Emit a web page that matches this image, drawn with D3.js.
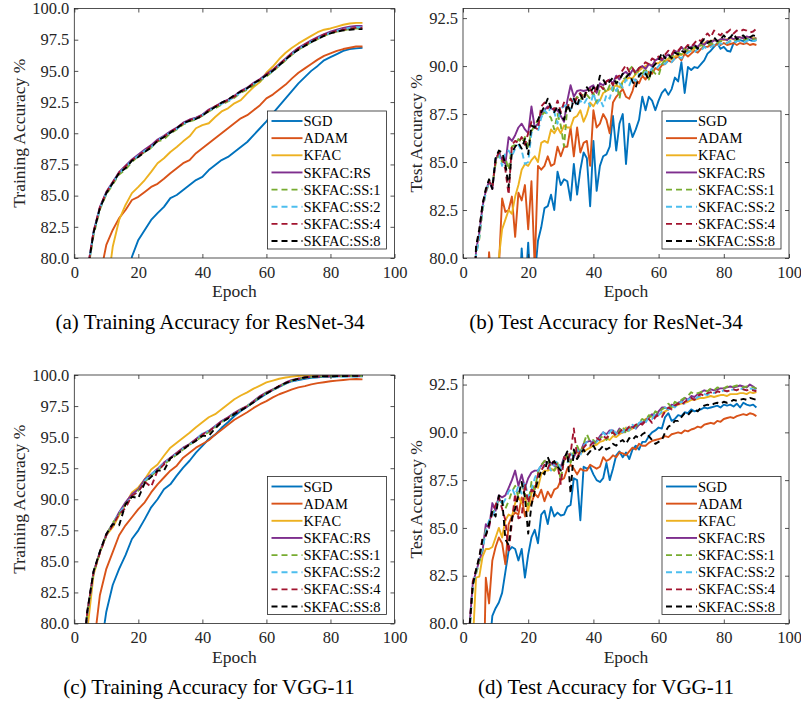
<!DOCTYPE html>
<html>
<head>
<meta charset="utf-8">
<script src="https://cdn.jsdelivr.net/npm/d3@7"></script>
<style>
  body { margin: 0; background: #fff; }
  text { font-family: "Liberation Serif", "Times New Roman", serif; }
</style>
</head>
<body>
<svg id="fig" width="801" height="706"></svg>
<script>
// legend names, in drawing order
const names = ["SGD", "ADAM", "KFAC", "SKFAC:RS", "SKFAC:SS:1", "SKFAC:SS:2", "SKFAC:SS:4", "SKFAC:SS:8"];

const trainEpochs = d3.range(2, 91, 2);
const testEpochs = d3.range(1, 91);
const xTicks = [0, 20, 40, 60, 80, 100];
const trainTicks = [80, 82.5, 85, 87.5, 90, 92.5, 95, 97.5, 100];
const testTicks = [80, 82.5, 85, 87.5, 90, 92.5];

// (a) training accuracy, ResNet-34 (every 2nd epoch)
const resTrainSGD = [50,55,60,64,67,70,73,76,80.1,81.45, 82.25,83.05,83.6,84.1,84.8,85.05,85.45,85.85,86.25,86.5, 87.05,87.45,87.85,88.1,88.5,88.9,89.3,89.85,90.4,90.95, 91.6,92.2,92.8,93.4,94.0,94.5,95.0,95.4,95.85,96.1, 96.35,96.6,96.75,96.8,96.85];
const resTrainADAM = [70,73,75.5,78.5,81.05,82.25,83.2,83.85,84.65,84.9, 85.3,85.7,85.95,86.35,86.8,87.2,87.6,87.85,88.4,88.8, 89.2,89.6,90.0,90.4,90.8,91.2,91.45,91.85,92.25,92.8, 93.1,93.5,93.9,94.4,94.85,95.2,95.55,95.9,96.2,96.4, 96.6,96.75,96.85,96.95,96.95];
const resTrainKFAC = [62,66,70,73.5,77.0,80.9,83.05,84.25,85.2,85.7, 86.25,86.9,87.6,88.0,88.5,88.9,89.35,89.75,90.4,90.65, 90.8,91.3,91.75,92.0,92.4,92.65,93.2,93.7,94.1,94.85, 95.35,95.95,96.45,96.85,97.2,97.5,97.8,98.1,98.3,98.4, 98.55,98.7,98.8,98.85,98.85];
const resTrainRS = [70,78.8,82.1,84.1,85.3,86.1,86.9,87.4,87.9,88.3, 88.7,89.05,89.5,89.8,90.15,90.45,90.85,91.1,91.25,91.5, 91.9,92.15,92.45,92.7,93.0,93.4,93.65,94.05,94.35,94.75, 95.1,95.55,96.0,96.45,96.85,97.15,97.45,97.7,97.95,98.15, 98.3,98.45,98.55,98.6,98.6];
const resTrainSS1 = [69.5,78.6,81.8,83.9,85.1,85.9,86.7,87.1,87.7,88.15, 88.5,88.85,89.35,89.5,90.0,90.3,90.7,90.95,91.1,91.4, 91.75,92.0,92.3,92.55,92.85,93.25,93.5,93.85,94.2,94.55, 94.95,95.4,95.85,96.3,96.7,97.0,97.3,97.55,97.8,98.0, 98.15,98.25,98.35,98.4,98.4];
const resTrainSS2 = [69.8,78.7,82.0,84.0,85.2,86.0,86.8,87.3,87.8,88.2, 88.6,88.9,89.4,89.75,90.05,90.35,90.75,91.0,91.2,91.45, 91.8,92.1,92.35,92.6,92.9,93.3,93.6,93.95,94.25,94.65, 95.0,95.45,95.9,96.35,96.75,97.05,97.35,97.6,97.85,98.05, 98.2,98.35,98.45,98.5,98.5];
const resTrainSS4 = [70.2,78.8,82.1,84.05,85.25,86.05,86.85,87.35,87.85,88.2, 88.55,89.0,89.4,89.7,90.1,90.4,90.8,91.05,91.2,91.45, 91.85,92.15,92.4,92.65,92.95,93.35,93.6,94.0,94.3,94.7, 95.05,95.5,95.95,96.4,96.8,97.1,97.4,97.65,97.9,98.05, 98.2,98.3,98.4,98.45,98.45];
const resTrainSS8 = [70,78.7,82.0,84.0,85.2,86.0,86.8,87.2,87.8,88.1, 88.5,88.85,89.4,89.7,90.05,90.4,90.8,91.0,91.15,91.4, 91.8,92.1,92.45,92.7,93.05,93.35,93.6,94.0,94.3,94.65, 95.0,95.45,95.9,96.35,96.7,97.0,97.3,97.55,97.8,98.0, 98.15,98.25,98.3,98.35,98.35];

// (b) test accuracy, ResNet-34 (every epoch)
const resTestSGD = [45,55,60,63,66,68,70,72,71,74, 73,76,75,77,76,78,77,80.5,78,80.8, 77.5,79,80.9,81.6,82.6,82.7,83.3,82.5,84.5,83.8, 84.1,84.0,83.0,84.9,83.3,84.6,85.5,85.2,82.7,86.1, 83.5,84.8,85.3,85.4,85.8,87.4,85.6,87.0,87.5,84.9, 87.0,86.3,86.7,87.2,88.4,87.7,88.4,88.2,87.7,88.2, 88.6,88.8,88.5,88.8,89.4,89.2,90.2,88.6,89.95,89.8, 89.95,89.9,90.1,90.3,90.65,90.8,91.0,91.2,90.9,91.0, 90.8,90.75,91.2,91.3,91.35,91.3,91.45,91.35,91.3,91.35];
const resTestADAM = [50,60,66,70,73,75,77,80.3,78,77, 79.5,83.1,82.4,82.5,83.2,81.1,83.4,83.0,83.8,81.5, 84.0,79.5,84.8,84.6,84.8,85.3,84.8,84.9,85.8,85.3, 85.8,85.8,86.8,85.3,86.8,85.5,86.0,86.1,84.8,87.7, 86.8,87.0,87.5,87.2,86.5,88.1,88.4,88.6,88.8,88.4, 88.3,88.7,89.3,89.1,89.5,89.3,89.7,89.6,89.9,89.8, 90.05,90.1,90.3,90.2,90.4,90.5,90.3,90.65,90.5,90.65, 90.8,90.7,90.9,91.0,91.0,91.1,91.05,91.15,91.1,91.2, 91.1,91.15,91.2,91.1,91.2,91.15,91.2,91.1,91.15,91.1];
const resTestKFAC = [50,58,64,68,71,74,76,77.5,78.5,79.5, 80.0,81.5,82.0,82.5,82.3,83.2,83.8,84.6,84.9,84.8, 85.1,85.3,85.0,86.0,86.1,86.0,86.7,86.5,86.8,86.5, 86.9,86.8,86.8,87.3,87.4,87.7,87.1,87.5,88.1,87.9, 88.2,88.2,88.6,88.7,88.8,88.9,89.0,88.9,89.2,89.3, 89.4,89.35,89.6,89.75,89.9,90.0,90.1,90.05,90.15,90.15, 90.3,90.25,90.4,90.35,90.5,90.55,90.6,90.7,90.75,90.8, 90.9,91.0,91.1,91.2,91.3,91.3,91.35,91.3,91.4,91.35, 91.4,91.45,91.4,91.5,91.5,91.45,91.5,91.5,91.45,91.45];
const resTestRS = [60,70,76,80.4,81.3,82.7,83.5,84.0,83.6,85.1, 85.5,85.1,84.9,86.3,86.1,86.4,86.8,87.0,86.7,86.5, 87.9,86.8,87.0,87.5,87.7,87.9,87.8,87.7,87.7,87.4, 87.1,88.2,89.0,88.4,88.7,88.75,88.7,88.75,88.9,89.0, 88.6,89.1,89.0,89.2,89.3,89.1,89.5,89.3,89.6,89.7, 89.5,89.8,89.7,89.9,90.0,89.85,90.1,90.0,90.3,90.4, 90.3,90.5,90.6,90.5,90.8,90.7,91.0,90.8,90.9,91.0, 91.1,91.0,91.2,91.1,91.3,91.2,91.35,91.3,91.4,91.4, 91.35,91.5,91.4,91.5,91.5,91.45,91.55,91.5,91.4,91.45];
const resTestSS1 = [58,68,75,80.2,81.0,82.5,83.4,83.9,83.8,84.9, 85.4,85.0,85.2,84.6,85.8,85.9,86.2,86.0,86.3,85.8, 86.6,86.9,87.2,87.4,87.6,87.5,87.3,86.7,87.5,86.9, 85.8,87.9,88.3,88.1,88.4,88.2,88.6,88.5,88.3,88.6, 88.1,88.8,88.9,88.6,89.0,88.7,89.2,88.3,89.3,89.4, 89.8,90.0,89.5,89.9,89.6,89.9,89.3,89.8,89.6,89.5, 90.1,90.3,90.4,90.5,90.6,90.7,90.6,90.9,90.8,90.9, 91.0,90.9,91.1,91.0,91.1,91.2,91.1,91.2,91.3,91.3, 91.2,91.3,91.4,91.3,91.4,91.35,91.4,91.3,91.4,91.4];
const resTestSS2 = [58,68,75,80.1,81.1,82.6,83.4,84.0,83.7,85.3, 85.4,84.8,85.5,85.6,85.3,85.7,85.9,85.6,84.9,85.0, 86.5,86.9,86.6,87.3,87.7,87.5,87.9,87.6,87.0,87.8, 87.9,88.0,87.7,88.4,87.9,88.2,88.0,88.3,87.9,88.6, 88.0,88.3,87.9,88.5,88.3,89.0,88.7,89.1,88.9,89.3, 89.0,89.4,89.2,89.6,89.4,89.7,89.6,89.9,89.8,90.0, 90.2,90.1,90.3,90.2,90.4,90.5,90.4,90.6,90.7,90.8, 90.7,90.9,90.8,91.0,90.9,91.0,91.1,91.0,91.2,91.1, 91.2,91.3,91.2,91.3,91.3,91.2,91.3,91.4,91.3,91.35];
const resTestSS4 = [60,69,76,80.5,81.4,82.8,83.5,84.0,83.7,85.1, 85.5,85.3,84.6,83.3,85.9,86.1,86.0,86.3,85.9,86.5, 87.1,86.8,86.7,87.9,88.1,87.8,88.0,87.7,88.2,87.6, 88.1,87.8,88.3,88.0,88.4,88.6,88.3,88.7,88.8,88.5, 88.9,89.0,88.8,89.2,89.3,89.0,89.4,89.5,89.8,90.05, 89.7,89.9,89.6,89.9,90.0,90.2,90.1,90.4,90.3,90.5, 90.4,90.6,90.8,90.6,90.9,90.8,91.0,90.9,91.1,91.0, 91.2,91.4,91.3,91.5,91.7,91.5,91.85,91.7,91.6,91.8, 91.75,91.9,91.7,91.85,91.8,91.9,91.85,91.75,91.8,91.95];
const resTestSS8 = [60,70,76.5,80.6,81.5,82.8,83.6,84.1,83.6,85.2, 85.6,85.5,84.9,83.7,85.5,85.8,86.0,85.7,86.2,85.4, 86.9,86.8,87.2,87.6,87.9,88.3,87.8,87.6,87.9,87.5, 87.2,88.0,87.6,88.3,87.9,88.5,88.2,88.9,88.6,88.9, 88.7,89.5,89.3,89.0,89.2,89.4,89.1,89.3,89.6,89.4, 89.6,89.2,88.9,89.5,89.7,89.6,89.3,89.9,90.1,90.3, 90.7,90.4,90.6,90.4,90.7,90.6,90.8,90.7,91.0,90.9, 91.1,90.9,91.2,91.4,91.2,91.3,91.5,91.3,91.4,91.6, 91.4,91.5,91.7,91.4,91.5,91.6,91.4,91.5,91.6,91.55];

// (c) training accuracy, VGG-11 (every 2nd epoch)
const vggTrainSGD = [65,70,74,77.5,80.95,83.1,84.4,85.5,86.8,87.5, 88.4,89.35,90.0,90.8,91.2,91.9,92.55,93.1,93.75,94.3, 94.85,95.2,95.75,96.2,96.7,97.1,97.45,97.8,98.15,98.5, 98.8,99.05,99.3,99.5,99.6,99.7,99.78,99.82,99.85,99.88, 99.9,99.9,99.9,99.9,99.9];
const vggTrainADAM = [70,74,78,82.3,84.4,85.75,87.1,87.9,88.55,89.2, 89.75,90.55,91.2,91.75,92.3,92.7,93.35,93.75,94.15,94.45, 94.75,95.2,95.6,96.0,96.4,96.7,97.0,97.35,97.65,97.9, 98.2,98.45,98.65,98.85,99.0,99.1,99.25,99.35,99.42,99.5, 99.55,99.6,99.65,99.68,99.65];
const vggTrainKFAC = [74,79.3,83.9,85.75,87.1,87.75,88.7,89.6,90.55,90.95, 91.6,92.4,92.8,93.5,94.15,94.55,94.95,95.35,95.8,96.2, 96.6,96.85,97.25,97.65,98.05,98.35,98.6,98.9,99.15,99.4, 99.55,99.7,99.8,99.87,99.92,99.95,99.96,99.97,99.97,99.98, 99.98,99.98,99.99,99.99,99.99];
const vggTrainRS = [75,80.8,84.15,85.75,87.2,88.0,88.95,89.75,90.4,90.8, 91.6,92.0,92.45,92.95,93.35,93.75,94.15,94.45,94.85,95.25, 95.5,95.9,96.3,96.6,96.95,97.25,97.5,97.9,98.3,98.6, 98.85,99.1,99.4,99.6,99.7,99.8,99.85,99.88,99.9,99.9, 99.92,99.92,99.93,99.93,99.93];
const vggTrainSS1 = [74.8,80.6,84.0,85.7,87.1,88.1,88.8,89.6,90.2,90.7, 91.4,91.9,92.3,92.8,93.2,93.6,94.0,94.4,94.7,95.1, 95.4,95.8,96.2,96.5,96.9,97.2,97.5,97.85,98.25,98.55, 98.8,99.05,99.35,99.55,99.68,99.78,99.83,99.86,99.88,99.9, 99.9,99.91,99.92,99.92,99.92];
const vggTrainSS2 = [75,80.7,84.1,85.8,87.1,88.0,88.9,89.5,90.3,90.6, 91.5,92.0,92.4,92.9,93.3,93.7,94.1,94.4,94.8,95.3, 95.5,95.85,96.2,96.55,96.9,97.2,97.5,97.85,98.2,98.5, 98.8,99.05,99.3,99.5,99.65,99.75,99.8,99.82,99.84,99.85, 99.86,99.86,99.87,99.87,99.88];
const vggTrainSS4 = [75,80.8,84.1,85.7,87.1,87.9,88.8,89.3,90.3,90.6, 91.4,91.0,92.3,92.8,93.3,93.7,94.1,94.4,94.8,95.2, 95.45,95.85,96.25,96.55,96.9,97.2,97.5,97.85,98.25,98.55, 98.8,99.1,99.35,99.55,99.7,99.8,99.85,99.87,99.9,99.9, 99.91,99.92,99.92,99.93,99.93];
const vggTrainSS8 = [75.2,80.9,84.2,85.8,87.2,88.0,87.9,89.6,90.2,90.1, 91.3,91.8,92.3,92.3,93.3,93.6,94.0,94.4,94.7,95.1, 95.1,95.7,96.2,96.5,96.85,97.15,97.45,97.8,98.2,98.5, 98.8,99.1,99.35,99.55,99.7,99.8,99.85,99.88,99.9,99.9, 99.92,99.92,99.93,99.93,99.93];

// (d) test accuracy, VGG-11 (every epoch)
const vggTestSGD = [55,62,67,70,73,75,77,78.5,80.4,80.8, 81.1,81.6,82.7,83.8,84.0,83.9,83.3,83.9,82.4,83.6, 84.5,84.9,84.2,85.7,85.9,85.2,86.1,85.6,85.8,85.65, 85.7,86.1,86.2,87.6,87.5,85.4,88.2,88.1,88.2,87.8, 87.5,87.4,87.6,88.4,87.5,88.1,88.8,89.0,88.7,88.95, 88.6,89.1,89.3,89.1,89.5,89.5,89.8,90.0,90.1,90.25, 90.2,90.8,91.0,90.6,90.7,90.9,90.85,91.05,91.0,91.2, 91.1,91.15,91.2,91.3,91.25,91.3,91.35,91.4,91.3,91.45, 91.4,91.45,91.35,91.5,91.3,91.55,91.45,91.4,91.45,91.3];
const vggTestADAM = [45,55,62,68,72,74,82.4,81.05,83.3,84.0, 84.5,84.2,83.1,85.2,85.6,85.8,85.7,86.6,85.6,86.1, 86.3,86.8,86.6,87.0,86.4,86.9,86.6,87.0,87.1,87.5, 87.6,88.1,88.3,88.1,87.8,88.1,88.0,88.0,88.3,88.2, 88.1,88.2,88.7,88.5,88.6,88.8,88.7,88.95,88.9,88.8, 89.0,89.2,89.1,89.4,89.3,89.3,89.45,89.55,89.6,89.65, 89.7,89.8,89.75,89.9,89.95,90.0,89.95,90.1,90.05,90.15, 90.2,90.3,90.25,90.4,90.45,90.5,90.45,90.6,90.55,90.7, 90.75,90.8,90.75,90.85,90.9,90.95,90.9,91.0,90.95,90.85];
const vggTestKFAC = [55,68,79.0,82.4,82.45,83.5,83.9,83.9,84.0,84.5, 85.0,84.5,85.4,85.7,85.6,86.3,86.6,86.3,86.6,85.9, 86.8,87.2,87.1,87.8,88.0,88.0,88.1,88.0,88.2,88.25, 88.5,88.8,88.9,88.8,88.95,88.9,89.0,89.1,89.2,89.3, 89.35,89.5,89.55,89.7,89.6,89.8,89.75,89.9,90.0,90.25, 90.1,90.2,90.3,90.4,90.5,90.7,90.75,90.85,90.9,90.95, 91.0,91.1,91.2,91.3,91.35,91.45,91.5,91.55,91.6,91.7, 91.7,91.75,91.8,91.8,91.85,91.9,91.85,91.9,91.95,91.95, 91.9,92.0,92.0,92.0,92.05,92.05,92.0,92.1,92.05,92.1];
const vggTestRS = [70,79.9,82.1,82.7,83.3,83.8,85.2,85.0,86.3,85.9, 86.7,86.6,86.7,87.1,87.5,88.0,87.2,87.8,87.1,87.6, 87.9,88.0,88.0,88.25,88.5,88.4,88.4,88.25,88.2,88.2, 88.7,88.9,88.5,88.7,89.1,88.95,89.4,89.5,89.55,89.4, 89.55,89.8,90.0,89.9,90.1,90.1,89.9,90.2,90.0,90.1, 90.2,90.3,90.2,90.4,90.5,90.6,90.8,90.95,90.8,91.1, 91.3,91.3,91.2,91.45,91.4,91.55,91.6,91.8,91.7,91.9, 91.85,92.0,92.1,92.2,92.15,92.25,92.2,92.25,92.3,92.3, 92.35,92.4,92.35,92.4,92.45,92.4,92.35,92.5,92.4,92.25];
const vggTestSS1 = [68,79.5,82.0,82.6,83.2,83.9,84.9,85.3,85.7,86.1, 86.5,86.3,86.0,86.4,86.9,87.2,86.6,87.3,86.8,86.2, 87.4,87.0,87.9,88.3,88.5,88.6,88.2,88.0,88.4,87.5, 88.6,88.8,88.4,89.0,89.3,88.9,89.4,89.9,89.5,89.6, 89.4,89.7,89.8,89.6,89.9,90.0,89.8,90.1,90.3,89.9, 90.2,90.4,90.3,90.5,90.7,90.6,90.9,90.8,91.1,91.0, 91.2,91.3,91.5,91.3,91.6,91.5,91.7,91.8,91.9,92.1, 92.0,92.05,92.1,92.2,92.15,92.3,92.2,92.35,92.3,92.3, 92.4,92.35,92.4,92.45,92.4,92.35,92.4,92.4,92.35,92.3];
const vggTestSS2 = [68,79.6,82.0,82.7,83.4,83.9,84.8,85.4,85.6,86.0, 86.6,86.2,86.5,86.9,87.1,86.7,87.2,86.8,87.4,86.6, 87.0,87.6,88.0,88.3,88.2,88.4,88.0,88.3,88.5,88.1, 88.6,88.4,88.9,88.7,89.1,88.8,89.3,89.5,89.3,89.6, 89.5,89.7,90.0,89.8,90.0,90.2,89.9,90.1,90.0,90.3, 90.1,90.4,90.2,90.5,90.6,90.5,90.8,90.7,91.0,90.9, 91.1,91.3,91.2,91.4,91.3,91.5,91.6,91.5,91.7,91.8, 91.7,91.85,91.9,92.0,91.95,92.1,92.05,92.15,92.1,92.2, 92.15,92.2,92.25,92.2,92.3,92.25,92.2,92.3,92.25,92.2];
const vggTestSS4 = [69,79.8,82.2,82.8,83.4,84.5,84.6,85.1,85.8,86.2, 86.6,86.0,85.4,83.7,85.3,86.8,85.5,85.6,87.3,86.3, 87.0,86.9,87.8,88.0,88.3,88.1,88.5,88.4,88.3,87.3, 88.7,88.5,88.9,90.2,88.7,89.0,89.2,89.4,89.3,89.5, 89.7,89.6,89.8,89.7,89.9,90.0,89.8,90.0,90.2,90.1, 90.3,90.2,90.4,90.5,90.4,90.6,90.7,90.5,90.8,90.9, 90.8,91.1,91.3,91.2,91.4,91.5,91.4,91.6,91.7,91.8, 91.7,91.9,92.0,91.9,92.05,92.1,92.0,92.15,92.1,92.2, 92.15,92.2,92.25,92.2,92.3,92.25,92.2,92.25,92.2,92.15];
const vggTestSS8 = [69,79.8,82.0,82.8,83.5,84.4,84.6,85.2,85.9,85.6, 86.7,86.5,84.4,84.1,85.5,86.0,86.7,87.4,86.6,84.7, 86.2,86.9,87.5,88.0,87.8,88.7,88.3,88.5,88.2,88.0, 88.6,89.0,86.8,89.1,88.6,88.9,89.1,88.8,89.0,89.3, 89.0,89.1,89.3,89.1,89.2,89.4,89.3,89.5,89.6,89.4, 89.7,89.6,89.8,89.7,89.9,90.0,89.8,89.6,89.4,89.5, 89.6,90.0,90.3,90.4,90.6,90.6,90.8,91.0,90.9,91.1, 91.2,91.1,91.3,91.4,91.45,91.4,91.5,91.55,91.5,91.6, 91.55,91.6,91.7,91.65,91.7,91.75,91.7,91.8,91.75,91.7];

// MATLAB default colour order, black for the last one
const colors = ["#0072BD", "#D95319", "#EDB120", "#7E2F8E", "#77AC30", "#4DBEEE", "#A2142F", "#000000"];
const dashed = [false, false, false, false, true, true, true, true];
const axisColor = "#262626";
const font = '"Liberation Serif", "Times New Roman", serif';

const panels = [
  { left: 74.3, top: 8.5, right: 394.5, bottom: 258, yMax: 100, ticks: trainTicks, epochs: trainEpochs,
    series: [resTrainSGD, resTrainADAM, resTrainKFAC, resTrainRS, resTrainSS1, resTrainSS2, resTrainSS4, resTrainSS8],
    ylabel: "Training Accuracy %", ylabelX: 25, caption: "(a) Training Accuracy for ResNet-34", capX: 210, capY: 329, epochY: 297 },
  { left: 463, top: 8.5, right: 789, bottom: 258, yMax: 93, ticks: testTicks, epochs: testEpochs,
    series: [resTestSGD, resTestADAM, resTestKFAC, resTestRS, resTestSS1, resTestSS2, resTestSS4, resTestSS8],
    ylabel: "Test Accuracy %", ylabelX: 422, caption: "(b) Test Accuracy for ResNet-34", capX: 606, capY: 329, epochY: 297 },
  { left: 74.3, top: 375, right: 394.5, bottom: 623.5, yMax: 100, ticks: trainTicks, epochs: trainEpochs,
    series: [vggTrainSGD, vggTrainADAM, vggTrainKFAC, vggTrainRS, vggTrainSS1, vggTrainSS2, vggTrainSS4, vggTrainSS8],
    ylabel: "Training Accuracy %", ylabelX: 25, caption: "(c) Training Accuracy for VGG-11", capX: 209, capY: 694, epochY: 663 },
  { left: 463, top: 375, right: 789, bottom: 623.5, yMax: 93, ticks: testTicks, epochs: testEpochs,
    series: [vggTestSGD, vggTestADAM, vggTestKFAC, vggTestRS, vggTestSS1, vggTestSS2, vggTestSS4, vggTestSS8],
    ylabel: "Test Accuracy %", ylabelX: 422, caption: "(d) Test Accuracy for VGG-11", capX: 606, capY: 694, epochY: 663 }
];

const svg = d3.select("#fig");
svg.append("rect").attr("width", 801).attr("height", 706).attr("fill", "#fff");

function styleAxis(g, size) {
  g.attr("font-family", font).attr("font-size", size);
  g.select(".domain").remove();
  g.selectAll(".tick line").attr("stroke", axisColor).attr("stroke-width", 0.8);
  g.selectAll(".tick text").attr("fill", axisColor);
}

panels.forEach((p, pi) => {
  const x = d3.scaleLinear().domain([0, 100]).range([p.left, p.right]);
  const y = d3.scaleLinear().domain([80, p.yMax]).range([p.bottom, p.top]);

  const clipId = "clip" + pi;
  svg.append("clipPath").attr("id", clipId)
    .append("rect")
    .attr("x", p.left).attr("y", p.top)
    .attr("width", p.right - p.left).attr("height", p.bottom - p.top);

  const line = d3.line()
    .x((d, i) => x(p.epochs[i]))
    .y(d => y(d));

  const lines = svg.append("g").attr("clip-path", `url(#${clipId})`);
  p.series.forEach((vals, si) => {
    lines.append("path")
      .datum(vals)
      .attr("d", line)
      .attr("fill", "none")
      .attr("stroke", colors[si])
      .attr("stroke-width", 1.9)
      .attr("stroke-linejoin", "round")
      .attr("stroke-dasharray", dashed[si] ? "6,4" : null);
  });

  // axes, ticks pointing inward on all four sides
  const gb = svg.append("g").attr("transform", `translate(0,${p.bottom})`)
    .call(d3.axisBottom(x).tickValues(xTicks).tickSize(-4).tickPadding(8).tickFormat(d3.format("d")));
  styleAxis(gb, 16.5);
  const gl = svg.append("g").attr("transform", `translate(${p.left},0)`)
    .call(d3.axisLeft(y).tickValues(p.ticks).tickSize(-4).tickPadding(5).tickFormat(d3.format(".1f")));
  styleAxis(gl, 16.5);
  const gt = svg.append("g").attr("transform", `translate(0,${p.top})`)
    .call(d3.axisTop(x).tickValues(xTicks).tickSize(-4).tickFormat(() => ""));
  styleAxis(gt, 16.5);
  const gr = svg.append("g").attr("transform", `translate(${p.right},0)`)
    .call(d3.axisRight(y).tickValues(p.ticks).tickSize(-4).tickFormat(() => ""));
  styleAxis(gr, 16.5);

  svg.append("rect")
    .attr("x", p.left).attr("y", p.top)
    .attr("width", p.right - p.left).attr("height", p.bottom - p.top)
    .attr("fill", "none").attr("stroke", axisColor).attr("stroke-width", 0.8);

  // axis labels and caption
  svg.append("text")
    .attr("x", (p.left + p.right) / 2).attr("y", p.epochY)
    .attr("text-anchor", "middle").attr("font-size", 17.5).attr("fill", axisColor)
    .text("Epoch");
  svg.append("text")
    .attr("transform", `translate(${p.ylabelX},${(p.top + p.bottom) / 2}) rotate(-90)`)
    .attr("text-anchor", "middle").attr("font-size", 17.5).attr("fill", axisColor)
    .text(p.ylabel);
  svg.append("text")
    .attr("x", p.capX).attr("y", p.capY)
    .attr("text-anchor", "middle").attr("font-size", 21).attr("fill", "#000")
    .text(p.caption);

  // legend box in the lower right corner
  const lw = 119, lh = 138;
  const lx = p.right - 8 - lw, ly = p.bottom - 9 - lh;
  const leg = svg.append("g");
  leg.append("rect")
    .attr("x", lx).attr("y", ly).attr("width", lw).attr("height", lh)
    .attr("fill", "#fff").attr("stroke", axisColor).attr("stroke-width", 0.8);
  names.forEach((name, si) => {
    const cy = ly + 10 + si * 17.15;
    leg.append("line")
      .attr("x1", lx + 4).attr("x2", lx + 35).attr("y1", cy).attr("y2", cy)
      .attr("stroke", colors[si]).attr("stroke-width", 1.9)
      .attr("stroke-dasharray", dashed[si] ? "6,4" : null);
    leg.append("text")
      .attr("x", lx + 36).attr("y", cy).attr("dy", "0.35em")
      .attr("font-size", 14.5).attr("fill", "#000")
      .text(name);
  });
});
</script>
</body>
</html>
